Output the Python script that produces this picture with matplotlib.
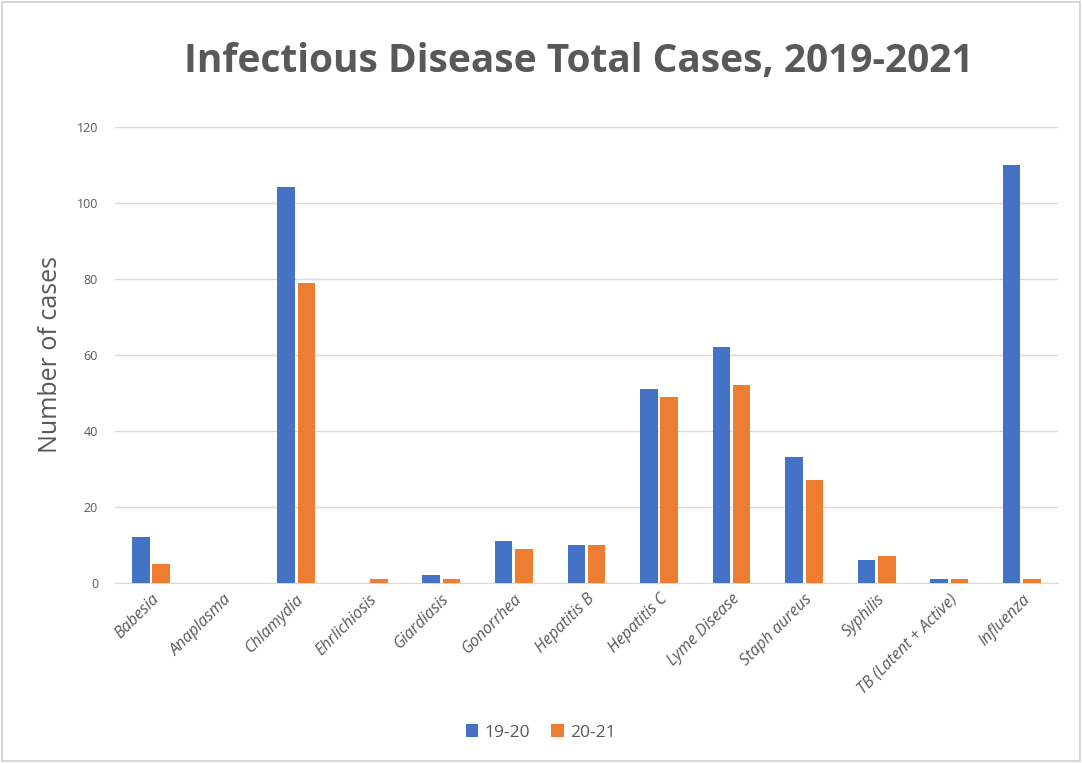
import matplotlib

matplotlib.use("Agg")
import matplotlib.pyplot as plt
import numpy as np
from matplotlib.patches import Rectangle

plt.rcParams["font.family"] = ["Open Sans", "DejaVu Sans"]

diseases = ["Babesia", "Anaplasma", "Chlamydia", "Ehrlichiosis", "Giardiasis",
            "Gonorrhea", "Hepatitis B", "Hepatitis C", "Lyme Disease",
            "Staph aureus", "Syphilis", "TB (Latent + Active)", "Influenza"]
cases_19_20 = [12, 0, 104, 0, 2, 11, 10, 51, 62, 33, 6, 1, 110]
cases_20_21 = [5, 0, 79, 1, 1, 9, 10, 49, 52, 27, 7, 1, 1]
series_labels = ["19-20", "20-21"]

BLUE = "#4472C4"
ORANGE = "#ED7D31"
GRAY = "#595959"

fig = plt.figure(figsize=(10.82, 7.63), dpi=100)
fig.patches.append(Rectangle((0.002, 0.002), 0.996, 0.996, transform=fig.transFigure,
                             fill=False, edgecolor="#D0D0D0", linewidth=1.2))
ax = fig.add_axes([0.106, 0.236, 0.872, 0.598])

x = np.arange(len(diseases))
width = 0.24
ax.bar(x - 0.14, cases_19_20, width, color=BLUE, label=series_labels[0], zorder=3)
ax.bar(x + 0.14, cases_20_21, width, color=ORANGE, label=series_labels[1], zorder=3)

ax.set_xlim(-0.5, len(diseases) - 0.5)
ax.set_ylim(0, 120)
ax.set_yticks(range(0, 121, 20))
ax.grid(axis="y", color="#D9D9D9", linewidth=1, zorder=0)
for side in ["top", "right", "left"]:
    ax.spines[side].set_visible(False)
ax.spines["bottom"].set_color("#D9D9D9")
ax.tick_params(axis="y", length=0, labelsize=9, labelcolor=GRAY, pad=12)
ax.tick_params(axis="x", length=0, pad=6)
ax.set_xticks(x)
ax.set_xticklabels(diseases, rotation=45, ha="right", rotation_mode="anchor",
                   fontsize=11.5, color=GRAY, style="italic")

ax.set_ylabel("Number of cases", fontsize=18, color=GRAY, labelpad=10)
fig.text(0.535, 0.919, "Infectious Disease Total Cases, 2019-2021", ha="center", va="center",
         fontsize=28, fontweight="bold", color=GRAY)

fig.legend(loc="center", bbox_to_anchor=(0.5, 0.04), ncol=2, frameon=False,
           fontsize=12.5, labelcolor=GRAY, handlelength=0.7, handleheight=0.7,
           handletextpad=0.4, columnspacing=1.2)

fig.savefig("out.png", dpi=100)
